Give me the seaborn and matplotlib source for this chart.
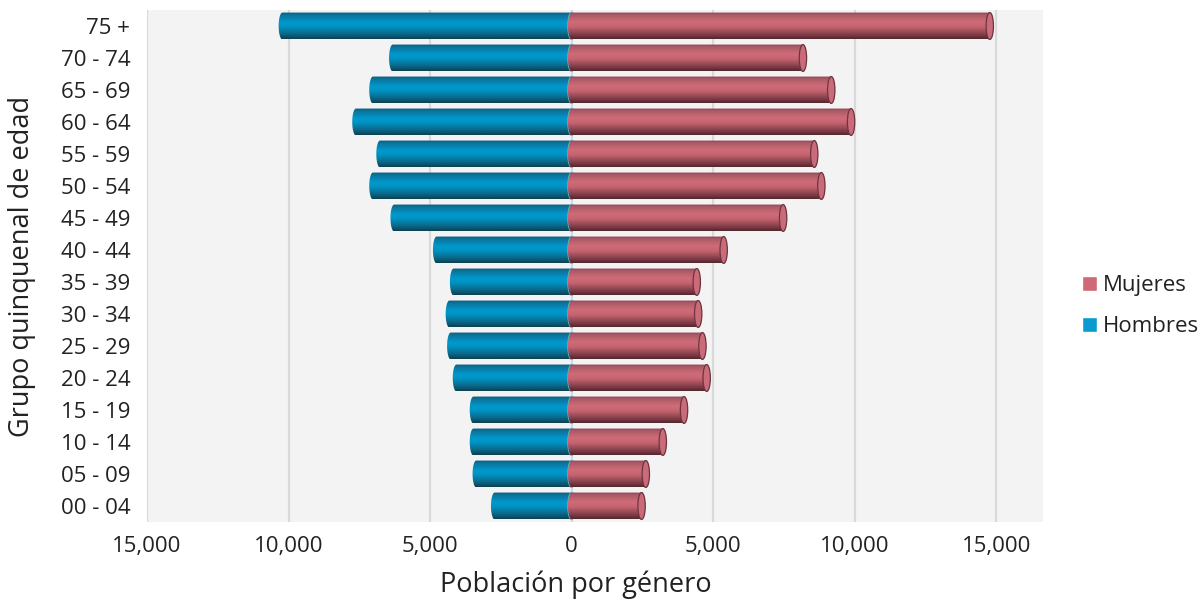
import numpy as np
import pandas as pd
import seaborn as sns
import matplotlib
matplotlib.use("Agg")
import matplotlib.pyplot as plt
from matplotlib.path import Path
from matplotlib.patches import PathPatch, Ellipse, Patch
from matplotlib.colors import LinearSegmentedColormap

# ---------------- data ----------------
groups = ["75 +", "70 - 74", "65 - 69", "60 - 64", "55 - 59", "50 - 54",
          "45 - 49", "40 - 44", "35 - 39", "30 - 34", "25 - 29", "20 - 24",
          "15 - 19", "10 - 14", "05 - 09", "00 - 04"]
hombres = [10350, 6450, 7150, 7750, 6900, 7150, 6400, 4900,
           4300, 4450, 4400, 4200, 3600, 3600, 3500, 2850]
mujeres = [14900, 8300, 9300, 10000, 8700, 8950, 7600, 5500,
           4550, 4600, 4750, 4900, 4100, 3350, 2750, 2600]
series_names = ["Mujeres", "Hombres"]
xticks = [-15000, -10000, -5000, 0, 5000, 10000, 15000]

# ---------------- style ----------------
sns.set_style("white")
plt.rcParams["font.family"] = ["Open Sans", "DejaVu Sans"]
TXT = "#222222"

fig = plt.figure(figsize=(12.02, 6.0), dpi=100)
ax = fig.add_axes([147 / 1202, 78 / 600, 896 / 1202, 512 / 600])
ax.set_facecolor("#f2f3f2")

sns.barplot(x=-np.array(hombres), y=groups, orient="h", width=0.84,
            color="#0093c4", ax=ax, zorder=2)
sns.barplot(x=np.array(mujeres), y=groups, orient="h", width=0.84,
            color="#cd6876", ax=ax, zorder=2)

n = len(groups)
blue_cmap = LinearSegmentedColormap.from_list("b", [
    (0.0, "#0e5b79"), (0.12, "#0a76a0"), (0.38, "#0099cc"),
    (0.55, "#0092c2"), (0.8, "#0b6a8b"), (1.0, "#0b3f52")])
red_cmap = LinearSegmentedColormap.from_list("r", [
    (0.0, "#8c4651"), (0.12, "#b05c69"), (0.38, "#d06c79"),
    (0.55, "#c5636f"), (0.8, "#8a434e"), (1.0, "#55262e")])
grad = np.linspace(0, 1, 128).reshape(-1, 1)
half = 130  # half width of the end caps (data units)


def arc(cx, cy, rx, ry, a0, a1, k=30):
    t = np.linspace(np.radians(a0), np.radians(a1), k)
    return [tuple(v) for v in np.column_stack([cx + rx * np.cos(t),
                                                cy + ry * np.sin(t)])]


patches = list(ax.patches)
for i, p in enumerate(patches):
    is_blue = i < n
    x0, w = p.get_x(), p.get_width()
    xl, xr = min(x0, x0 + w), max(x0, x0 + w)
    y0, h = p.get_y(), p.get_height()
    yc = y0 + h / 2
    p.set_visible(False)
    if is_blue:
        pts = [(0, y0), (xl + half, y0)]
        pts += arc(xl + half, yc, half, h / 2, -90, -270)
        pts += [(0, y0 + h), (0, y0)]
        cmap, zo = blue_cmap, 2.0
    else:
        pts = arc(0, yc, half, h / 2, 270, 90)
        pts += [(xr - half, y0 + h)]
        pts += arc(xr - half, yc, half, h / 2, 90, -90)
        pts += [pts[0]]
        cmap, zo = red_cmap, 2.4
    path = Path(np.array(pts))
    clip = PathPatch(path, transform=ax.transData, facecolor="none",
                     edgecolor="none")
    ax.add_patch(clip)
    im = ax.imshow(grad, cmap=cmap, extent=(xl - 300, xr + 300, y0 + h, y0),
                   origin="upper", aspect="auto", zorder=zo,
                   interpolation="bilinear")
    im.set_clip_path(clip)
    if is_blue:
        ax.add_patch(Ellipse((0, yc), 2 * half, h, facecolor="none",
                             edgecolor="#5bbbdd", lw=1.0, zorder=2.2))
    else:
        ax.add_patch(Ellipse((xr - half, yc), 2 * half, h,
                             facecolor="#c96b78", edgecolor="#6e3540",
                             lw=0.9, zorder=2.6))

ax.set_xlim(-15000, 16650)
ax.set_ylim(n - 0.5, -0.5)
ax.set_xticks(xticks)
ax.set_xticklabels([f"{abs(v):,}" for v in xticks])
ax.grid(axis="x", color="#d9d9d9", lw=1.6, zorder=0)
ax.grid(axis="y", visible=False)
ax.set_axisbelow(True)
for s in ax.spines.values():
    s.set_visible(False)
ax.tick_params(axis="both", length=0, colors=TXT, labelsize=16)
ax.tick_params(axis="y", pad=12)
ax.tick_params(axis="x", pad=10)
ax.set_xlabel("Población por género", fontsize=19.5, color=TXT, va="center")
ax.set_ylabel("Grupo quinquenal de edad", fontsize=19.5, color=TXT,
              va="center")
ax.xaxis.set_label_coords((576 - 147) / 896, (522 - 585) / 512)
ax.yaxis.set_label_coords((22 - 147) / 896, 0.5)

handles = [Patch(facecolor="#cf6877", label=series_names[0]),
           Patch(facecolor="#0a9ad0", label=series_names[1])]
fig.legend(handles=handles, loc="center left",
           bbox_to_anchor=(1071 / 1202, 1 - 306 / 600), frameon=False,
           fontsize=16, labelspacing=0.9, handlelength=0.65,
           handleheight=0.65, handletextpad=0.3, borderpad=0,
           labelcolor=TXT)

fig.savefig("out.png", dpi=100, facecolor="white")
